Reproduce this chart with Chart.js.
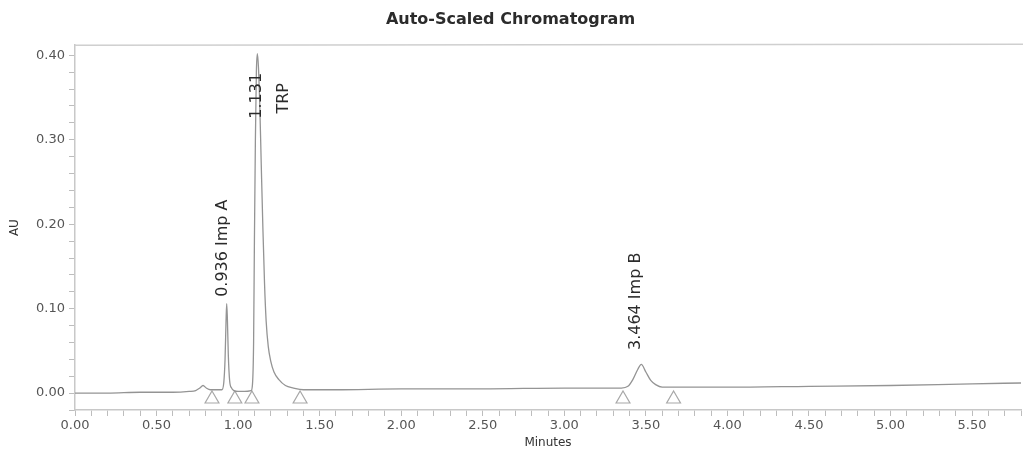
<!DOCTYPE html>
<html>
<head>
<meta charset="utf-8">
<title>Auto-Scaled Chromatogram</title>
<script src="https://cdn.jsdelivr.net/npm/chart.js@4"></script>
<style>
    body { margin: 0; background: #fff; }
    canvas { display: block; }
</style>
</head>
<body>
<canvas id="myChart" width="1023" height="450"></canvas>
<script>
'use strict';

// retention time (minutes) and absorbance (AU)
let times = [0.00, 0.20, 0.40, 0.60, 0.70, 0.74, 0.765, 0.785, 0.805, 0.83, 0.87,
    0.90, 0.912, 0.920, 0.926, 0.930, 0.934, 0.940, 0.948, 0.960, 0.975,
    1.00, 1.04, 1.080, 1.088, 1.095, 1.100, 1.106, 1.112, 1.118, 1.125,
    1.133, 1.142, 1.152, 1.162, 1.172, 1.185, 1.200, 1.220, 1.250, 1.290,
    1.340, 1.400, 1.60, 2.00, 2.50, 3.00, 3.35, 3.39, 3.42, 3.45, 3.472,
    3.50, 3.53, 3.56, 3.60, 3.70, 4.00, 4.50, 5.00, 5.50, 5.80];
let absorbance = [0.000, 0.000, 0.001, 0.001, 0.002, 0.003, 0.006, 0.009, 0.006, 0.004, 0.004,
    0.004, 0.012, 0.040, 0.085, 0.106, 0.090, 0.045, 0.015, 0.006, 0.003,
    0.002, 0.002, 0.003, 0.010, 0.060, 0.180, 0.300, 0.380, 0.402, 0.385,
    0.340, 0.270, 0.195, 0.130, 0.085, 0.055, 0.038, 0.025, 0.016, 0.009,
    0.006, 0.004, 0.004, 0.005, 0.005, 0.006, 0.006, 0.008, 0.016, 0.028, 0.034,
    0.025, 0.015, 0.010, 0.007, 0.007, 0.007, 0.008, 0.009, 0.011, 0.012];

// integration start / end markers
let markerTimes = [0.84, 0.98, 1.085, 1.38, 3.36, 3.67];
let markerLevel = -0.007;

// peak annotations
let labelTexts = ['0.936 Imp A', '1.131', 'TRP', '3.464 Imp B'];
let labelTimes = [0.936, 1.131, 1.131, 3.464];
let labelLevels = [0.114, 0.325, 0.331, 0.051];

let xTickLabels = ['0.00', '0.50', '1.00', '1.50', '2.00', '2.50', '3.00', '3.50', '4.00', '4.50', '5.00', '5.50'];
let yTickLabels = ['0.00', '0.10', '0.20', '0.30', '0.40'];

let trace = times.map((t, i) => ({ x: t, y: absorbance[i] }));
let markers = markerTimes.map(t => ({ x: t, y: markerLevel }));

function stepTicks(min, max, step) {
    let arr = [];
    for (let v = min; v <= max + 1e-9; v += step) {
        arr.push({ value: Math.round(v * 1000) / 1000 });
    }
    return arr;
}

let peakLabels = {
    id: 'peakLabels',
    afterDatasetsDraw(chart) {
        let ctx = chart.ctx;
        let x = chart.scales.x;
        let y = chart.scales.y;
        let shifts = [-5, -3, 24, -4];
        ctx.save();
        ctx.font = '16px "DejaVu Sans"';
        ctx.fillStyle = '#2b2b2b';
        ctx.textAlign = 'left';
        ctx.textBaseline = 'middle';
        for (let i = 0; i < labelTexts.length; i++) {
            let px = x.getPixelForValue(labelTimes[i]) + shifts[i];
            let py = y.getPixelForValue(labelLevels[i]);
            ctx.save();
            ctx.translate(px, py);
            ctx.rotate(-Math.PI / 2);
            ctx.fillText(labelTexts[i], 0, 0);
            ctx.restore();
        }
        // frame line on top of the plot
        ctx.strokeStyle = '#cfcfcf';
        ctx.lineWidth = 1.5;
        ctx.beginPath();
        ctx.moveTo(chart.chartArea.left, chart.chartArea.top);
        ctx.lineTo(chart.chartArea.right + 2, chart.chartArea.top - 1);
        ctx.stroke();
        ctx.restore();
    }
};

let ctx = document.getElementById('myChart').getContext('2d');
let myChart = new Chart(ctx, {
    type: 'scatter',
    data: {
        datasets: [{
            label: 'AU',
            data: trace,
            showLine: true,
            borderColor: '#949494',
            borderWidth: 1.3,
            pointRadius: 0,
            cubicInterpolationMode: 'monotone',
            fill: false
        }, {
            label: 'markers',
            data: markers,
            showLine: false,
            pointStyle: 'triangle',
            pointRadius: 8,
            backgroundColor: 'rgba(255,255,255,0)',
            borderColor: '#a8a8a8',
            borderWidth: 1.2
        }]
    },
    options: {
        responsive: false,
        animation: false,
        layout: { autoPadding: false, padding: { left: 0, right: 2, top: 0, bottom: 0 } },
        plugins: {
            legend: { display: false },
            tooltip: { enabled: false },
            title: {
                display: true,
                text: 'Auto-Scaled Chromatogram',
                color: '#2b2b2b',
                font: { family: '"DejaVu Sans"', size: 16, weight: 'bold' },
                padding: { top: 10, bottom: 16 }
            }
        },
        scales: {
            x: {
                type: 'linear',
                min: 0,
                max: 5.8,
                afterBuildTicks: scale => { scale.ticks = stepTicks(0, 5.8, 0.1); },
                afterFit: scale => {
                    scale.height = 40;
                    scale.paddingLeft = 0;
                    scale.paddingRight = 0;
                },
                ticks: {
                    autoSkip: false,
                    maxRotation: 0,
                    padding: 2,
                    color: '#555',
                    font: { family: '"DejaVu Sans"', size: 13 },
                    callback: function (value) {
                        let label = value.toFixed(2);
                        return xTickLabels.includes(label) ? label : '';
                    }
                },
                grid: { drawOnChartArea: false, tickLength: 6, color: '#bdbdbd' },
                border: { color: '#c8c8c8', width: 1.5 },
                title: {
                    display: true,
                    text: 'Minutes',
                    color: '#333',
                    font: { family: '"DejaVu Sans"', size: 12 },
                    padding: { top: 0, bottom: 0 }
                }
            },
            y: {
                min: -0.02,
                max: 0.412,
                afterBuildTicks: scale => { scale.ticks = stepTicks(-0.02, 0.40, 0.02); },
                afterFit: scale => { scale.width = 75; },
                ticks: {
                    autoSkip: false,
                    padding: 4,
                    color: '#555',
                    font: { family: '"DejaVu Sans"', size: 13 },
                    callback: function (value) {
                        let label = value.toFixed(2);
                        return yTickLabels.includes(label) ? label : '';
                    }
                },
                grid: { drawOnChartArea: false, tickLength: 6, color: '#bdbdbd' },
                border: { color: '#c8c8c8', width: 1.5 },
                title: {
                    display: true,
                    text: 'AU',
                    color: '#333',
                    font: { family: '"DejaVu Sans"', size: 12 },
                    padding: { top: 8, bottom: 0 }
                }
            }
        }
    },
    plugins: [peakLabels]
});
</script>
</body>
</html>
